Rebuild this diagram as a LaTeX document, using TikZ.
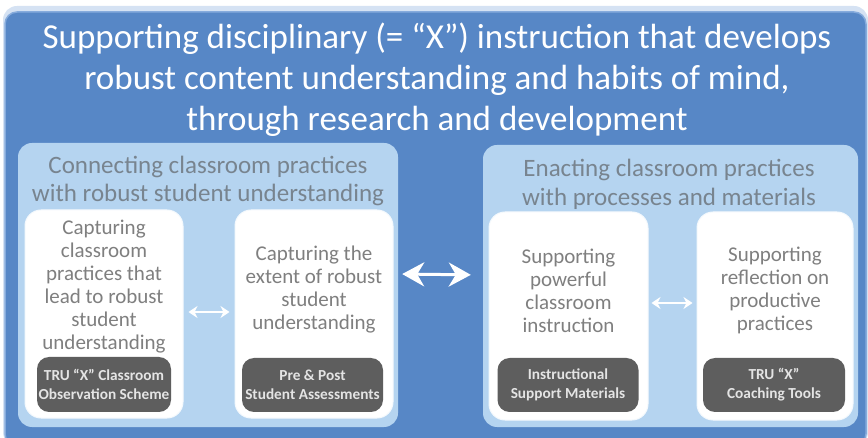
\documentclass[tikz,border=0pt]{standalone}
\usepackage{fontspec}
\setmainfont{Carlito}
\usetikzlibrary{arrows.meta}
\definecolor{outerblue}{HTML}{5787C6}
\definecolor{rimblue}{HTML}{86ABDC}
\definecolor{panelblue}{HTML}{B5D4F0}
\definecolor{darkbox}{HTML}{5E5E5E}
\definecolor{boxtext}{HTML}{7F7F7F}
\definecolor{paneltext}{HTML}{78848F}
\definecolor{toolfont}{HTML}{E4E4E4}
\tikzset{
  panelbox/.style={fill=panelblue, draw=none, rounded corners=14pt, inner sep=0pt},
  whitebox/.style={fill=white, draw=white!85!panelblue, line width=1pt, rounded corners=16pt, inner sep=0pt},
  toolbox/.style={fill=darkbox, draw=none, rounded corners=12pt, inner sep=0pt, text=toolfont,
    font=\fontsize{15.3}{19}\selectfont\bfseries, align=center},
  bodytext/.style={text=boxtext, font=\fontsize{21}{23}\selectfont, align=center, inner sep=0pt},
  paneltitle/.style={text=paneltext, font=\fontsize{25}{28.5}\selectfont, align=center, inner sep=0pt},
  bigarrow/.style={draw=white, line width=3pt, {Stealth[length=22pt,width=24pt,inset=7pt]}-{Stealth[length=22pt,width=24pt,inset=7pt]}},
  smallarrow/.style={draw=white, line width=1.5pt, {Stealth[length=9pt,width=12pt,inset=3pt]}-{Stealth[length=9pt,width=12pt,inset=3pt]}}
}
\begin{document}
\begin{tikzpicture}[x=1pt,y=-1pt]
\useasboundingbox (0,0) rectangle (868,438);
\begin{scope}
\clip (0,0) rectangle (868,438);
\fill[rimblue!35!white, rounded corners=14pt] (3,6) rectangle (868,446);
\node[fill=outerblue, draw=rimblue, line width=1.5pt, rounded corners=12pt, minimum width=861pt, minimum height=434pt, inner sep=0pt] (outer) at (435.5,229) {};
\end{scope}
\node[text=white, font=\fontsize{35}{41}\selectfont, align=center, inner sep=0pt] (title) at (437,80)
  {Supporting disciplinary (= “X”) instruction that develops\\robust content understanding and habits of mind,\\through research and development};
% panels
\node[panelbox, minimum width=380pt, minimum height=284pt] (L) at (208,285) {};
\node[panelbox, minimum width=375pt, minimum height=282pt] (R) at (670.5,286) {};
\node[paneltitle] (Lt) at (208,181) {Connecting classroom practices\\with robust student understanding};
\node[paneltitle] (Rt) at (669,184.5) {Enacting classroom practices\\with processes and materials};
% white boxes
\node[whitebox, minimum width=158pt, minimum height=208pt] (b1) at (104,314) {};
\node[whitebox, minimum width=158pt, minimum height=208pt] (b2) at (314,314) {};
\node[whitebox, minimum width=159pt, minimum height=208pt] (b3) at (568.5,316) {};
\node[whitebox, minimum width=156pt, minimum height=208pt] (b4) at (775,316) {};
% body texts
\node[bodytext] (t1) at (104,286.5) {Capturing\\classroom\\practices that\\lead to robust\\student\\understanding};
\node[bodytext] (t2) at (314,289.5) {Capturing the\\extent of robust\\student\\understanding};
\node[bodytext] (t3) at (568.5,290.5) {Supporting\\powerful\\classroom\\instruction};
\node[bodytext] (t4) at (775,290.5) {Supporting\\reflection on\\productive\\practices};
% tool boxes
\node[toolbox, minimum width=134pt, minimum height=55pt] (d1) at (104,384.5) {TRU “X” Classroom\\Observation Scheme};
\node[toolbox, minimum width=141pt, minimum height=54pt] (d2) at (312.5,385) {Pre \& Post\\Student Assessments};
\node[toolbox, minimum width=141pt, minimum height=54pt] (d3) at (568,385) {Instructional\\Support Materials};
\node[toolbox, minimum width=142pt, minimum height=54pt] (d4) at (774,385) {TRU “X”\\Coaching Tools};
% arrows
\draw[bigarrow, shorten <=4pt, shorten >=12pt] ([yshift=11pt]L.east) -- ([yshift=11pt]R.west);
\draw[smallarrow, shorten <=5pt, shorten >=5pt] ([yshift=2pt]b1.east) -- ([yshift=2pt]b2.west);
\draw[smallarrow, shorten <=3pt, shorten >=4pt] ([yshift=13pt]b3.east) -- ([yshift=13pt]b4.west);
\end{tikzpicture}
\end{document}
